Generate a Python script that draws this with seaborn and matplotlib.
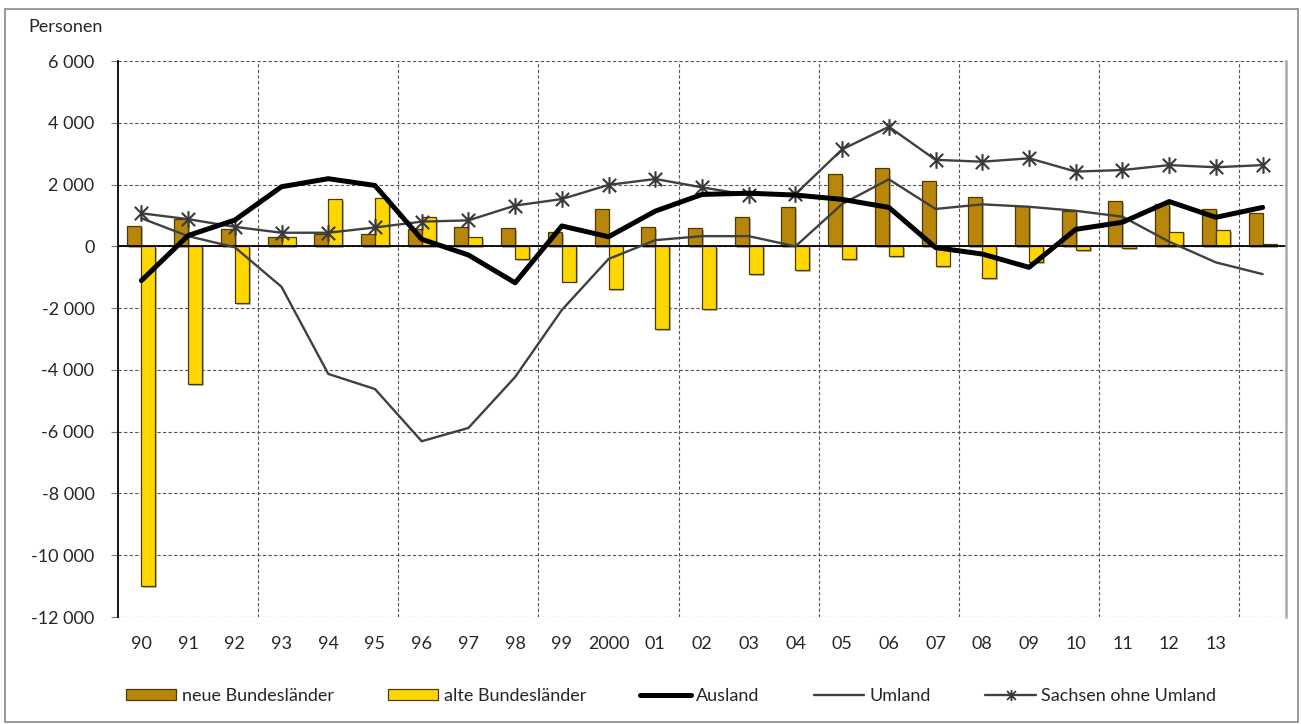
import numpy as np
import pandas as pd
import matplotlib
matplotlib.use("Agg")
import matplotlib.pyplot as plt
import matplotlib.patheffects as pe
from matplotlib.lines import Line2D
from matplotlib.patches import Patch, Rectangle
from matplotlib.path import Path
import seaborn as sns

# ---------------- data ----------------
years = [str(y) for y in range(1990, 2015)]
tick_labels = ["90", "91", "92", "93", "94", "95", "96", "97", "98", "99", "2000",
               "01", "02", "03", "04", "05", "06", "07", "08", "09", "10", "11", "12", "13", ""]
neue = [650, 900, 550, 310, 400, 390, 550, 610, 580, 470, 1200, 630, 580, 940, 1270,
        2340, 2520, 2130, 1600, 1300, 1140, 1460, 1360, 1200, 1090]
alte = [-11000, -4450, -1850, 310, 1540, 1570, 950, 290, -420, -1140, -1380, -2690, -2040,
        -900, -770, -410, -310, -640, -1040, -500, -130, -50, 480, 520, 60]
ausland = [-1110, 350, 850, 1930, 2190, 1970, 230, -280, -1180, 660, 310, 1140, 1680, 1720,
           1660, 1520, 1260, -40, -250, -680, 550, 780, 1450, 940, 1260]
umland = [910, 330, -30, -1310, -4130, -4620, -6310, -5880, -4230, -2060, -410, 200, 330,
          330, 0, 1370, 2170, 1210, 1360, 1280, 1150, 960, 150, -520, -900]
sachsen = [1070, 880, 630, 440, 440, 610, 800, 840, 1320, 1530, 1990, 2180, 1910, 1660,
           1690, 3140, 3870, 2800, 2740, 2850, 2420, 2470, 2630, 2560, 2630]
y_ticks = [6000, 4000, 2000, 0, -2000, -4000, -6000, -8000, -10000, -12000]
y_tick_labels = ["6 000", "4 000", "2 000", "0", "-2 000", "-4 000", "-6 000", "-8 000",
                 "-10 000", "-12 000"]

series_bar = ["neue Bundesländer", "alte Bundesländer"]
bar_colors = ["#B8860B", "#FFD700"]

# Excel-style star marker: X plus vertical stroke
star = Path([(-1, -1), (1, 1), (-1, 1), (1, -1), (0, -1.25), (0, 1.25)],
            [Path.MOVETO, Path.LINETO] * 3)

# ---------------- style ----------------
sns.set_style("white")
plt.rcParams["font.family"] = ["Lato", "DejaVu Sans"]
plt.rcParams["font.size"] = 13

df = pd.DataFrame({
    "Jahr": years * 2,
    "Wert": neue + alte,
    "Serie": [series_bar[0]] * len(years) + [series_bar[1]] * len(years),
})

fig = plt.figure(figsize=(13.01, 7.24), dpi=100)
ax = fig.add_axes([118 / 1301, 1 - 617 / 724, (1286 - 118) / 1301, (617 - 61) / 724])

sns.barplot(data=df, x="Jahr", y="Wert", hue="Serie", order=years, hue_order=series_bar,
            palette=bar_colors, saturation=1, width=0.6, edgecolor="#4a3a00", linewidth=0.9,
            ax=ax, legend=False, zorder=2)
for p in ax.patches:
    p.set_path_effects([pe.SimplePatchShadow(offset=(1.3, -1.3), shadow_rgbFace="#888888",
                                             alpha=0.6), pe.Normal()])

ax.axhline(0, color="black", lw=1.3, zorder=2.5)

idx = np.arange(len(years))
sns.lineplot(x=idx, y=ausland, ax=ax, color="black", lw=3.6, zorder=4, label="Ausland")
sns.lineplot(x=idx, y=umland, ax=ax, color="#404040", lw=1.7, zorder=3, label="Umland")
sns.lineplot(x=idx, y=sachsen, ax=ax, color="#404040", lw=1.7, zorder=3,
             marker=star, markersize=12, markeredgewidth=1.5, markeredgecolor="#383838",
             markerfacecolor="none", label="Sachsen ohne Umland")
if ax.get_legend():
    ax.get_legend().remove()

ax.set_xlim(-0.5, len(years) - 0.5)
ax.set_ylim(-12000, 6000)
ax.set_yticks(y_ticks)
ax.set_yticklabels(y_tick_labels)
ax.set_xticks(idx)
ax.set_xticklabels(tick_labels)
ax.set_xlabel("")
ax.set_ylabel("")

ax.set_xticks(np.arange(2.5, len(years) - 1, 3), minor=True)
ax.set_axisbelow(True)
ax.grid(axis="y", which="major", color="#555555", linestyle=(0, (3, 2)), lw=0.8)
ax.grid(axis="x", which="minor", color="#555555", linestyle=(0, (3, 2)), lw=0.8)
ax.grid(axis="x", which="major", visible=False)

ax.tick_params(axis="y", which="major", length=5, width=0.8, color="#777777", pad=12,
               left=True, labelsize=13)
ax.tick_params(axis="x", which="both", length=0, pad=13.5, labelsize=13)

for side in ["top", "bottom"]:
    ax.spines[side].set_visible(False)
ax.spines["left"].set_color("black")
ax.spines["left"].set_linewidth(1.3)
ax.spines["right"].set_color("#aaaaaa")
ax.spines["right"].set_linewidth(1.8)

fig.text(28 / 1301, 1 - 27 / 724, "Personen", fontsize=13, va="center", ha="left")

handles = [
    Patch(facecolor=bar_colors[0], edgecolor="#4a3a00", lw=0.9),
    Patch(facecolor=bar_colors[1], edgecolor="#4a3a00", lw=0.9),
    Line2D([], [], color="black", lw=3.6),
    Line2D([], [], color="#404040", lw=1.7),
    Line2D([], [], color="#404040", lw=1.7, marker=star, markersize=8,
           markeredgewidth=1.3, markeredgecolor="#383838", markerfacecolor="none"),
]
labels = series_bar + ["Ausland", "Umland", "Sachsen ohne Umland"]
fig.legend(handles, labels, loc="center", bbox_to_anchor=(671 / 1301, 1 - 696 / 724),
           ncol=5, frameon=False, handlelength=2.8, handleheight=0.55, handletextpad=0.3,
           columnspacing=3.0, fontsize=13)

fig.add_artist(Rectangle((5 / 1301, 2 / 724), (1298 - 5) / 1301, (715 - 2) / 724,
                         transform=fig.transFigure, fill=False, edgecolor="#888888", lw=1.2))

fig.savefig("out.png", dpi=100)
